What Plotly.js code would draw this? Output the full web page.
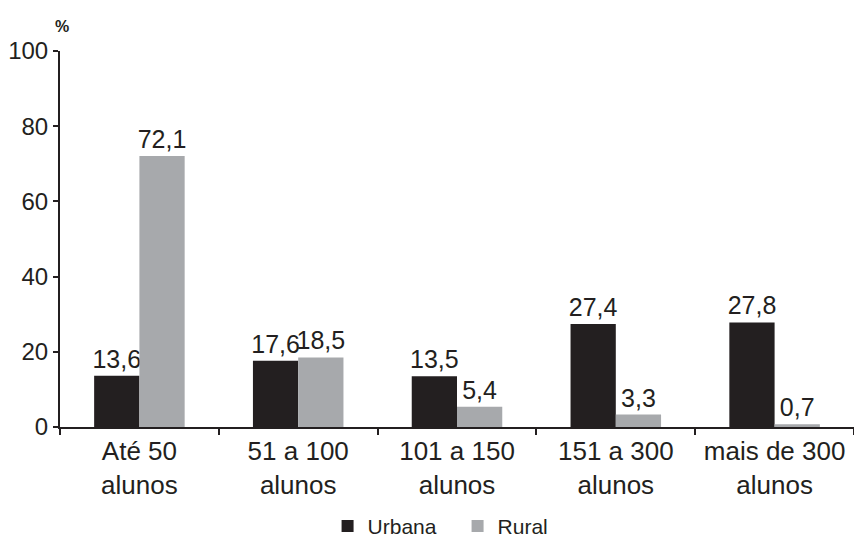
<!DOCTYPE html>
<html><head><meta charset="utf-8">
<script src="https://cdn.plot.ly/plotly-3.0.1.min.js"></script>
<style>html,body{margin:0;padding:0;background:#fff}#chart{width:854px;height:537px}</style>
</head><body><div id="chart"></div>
<script>
const categories = ["Até 50<br>alunos", "51 a 100<br>alunos", "101 a 150<br>alunos", "151 a 300<br>alunos", "mais de 300<br>alunos"];
const urbana = [13.6, 17.6, 13.5, 27.4, 27.8];
const rural = [72.1, 18.5, 5.4, 3.3, 0.7];
const yTicks = [0, 20, 40, 60, 80, 100];
const fmt = v => v.toFixed(1).replace('.', ',');
const FONT = "Liberation Sans, Arial, sans-serif";
const traces = [
  {type:'bar', name:'Urbana', x:categories, y:urbana, text:urbana.map(fmt), textposition:'outside', constraintext:'none',
   marker:{color:'#231f20'}, textfont:{size:25, color:'#231f20', family:FONT}, cliponaxis:false, hoverinfo:'none'},
  {type:'bar', name:'Rural', x:categories, y:rural, text:rural.map(fmt), textposition:'outside', constraintext:'none',
   marker:{color:'#a7a9ac'}, textfont:{size:25, color:'#231f20', family:FONT}, cliponaxis:false, hoverinfo:'none'}
];
const layout = {
  width:854, height:537,
  margin:{l:60, r:0, t:51, b:110, autoexpand:false},
  paper_bgcolor:'#fff', plot_bgcolor:'#fff',
  font:{family:FONT, color:'#231f20'},
  barmode:'group', bargap:0.43, bargroupgap:0,
  showlegend:true,
  legend:{orientation:'h', x:0.337, xanchor:'left', y:-0.21, yanchor:'top', font:{size:21},
    traceorder:'normal', itemwidth:30, entrywidth:85},
  xaxis:{type:'category', showline:true, linecolor:'#231f20', linewidth:2, ticks:'outside', tickson:'boundaries',
    ticklen:6, tickwidth:2, tickcolor:'#231f20', tickfont:{size:26}, showgrid:false, zeroline:false, fixedrange:true},
  yaxis:{range:[0,100], tickvals:yTicks, ticktext:yTicks.map(String), showline:true, linecolor:'#231f20', linewidth:2,
    ticks:'outside', ticklen:5, tickwidth:2, tickcolor:'#231f20', tickfont:{size:24}, showgrid:false, zeroline:false, fixedrange:true},
  annotations:[{text:'<b>%</b>', xref:'paper', yref:'paper', x:0, y:1, xanchor:'center', yanchor:'bottom', yshift:14, xshift:2,
    showarrow:false, font:{size:16, color:'#231f20'}}]
};
Plotly.newPlot('chart', traces, layout, {displayModeBar:false, staticPlot:true});
</script></body></html>
